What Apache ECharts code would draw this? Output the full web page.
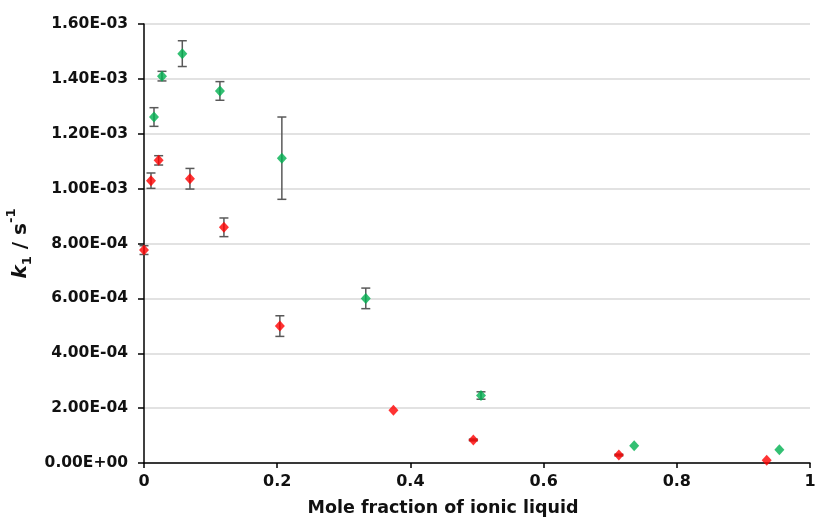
<!DOCTYPE html>
<html>
<head>
<meta charset="utf-8">
<script src="https://cdn.jsdelivr.net/npm/echarts@6/dist/echarts.min.js"></script>
<style>html,body{margin:0;padding:0;background:#fff}#c{width:819px;height:525px}</style>
</head>
<body>
<div id="c"></div>
<script>
// Green series (mole fraction, k1, error)
const greenX = [0.015, 0.027, 0.0575, 0.114, 0.207, 0.333, 0.506, 0.736, 0.954];
const greenY = [1.261e-3, 1.410e-3, 1.492e-3, 1.356e-3, 1.111e-3, 0.600e-3, 0.246e-3, 0.063e-3, 0.0485e-3];
const greenErr = [0.034e-3, 0.0175e-3, 0.047e-3, 0.034e-3, 0.150e-3, 0.0375e-3, 0.0135e-3, 0, 0];
// Red series
const redX = [0, 0.0105, 0.022, 0.069, 0.120, 0.204, 0.3745, 0.4945, 0.713, 0.935];
const redY = [0.776e-3, 1.029e-3, 1.103e-3, 1.036e-3, 0.859e-3, 0.499e-3, 0.192e-3, 0.084e-3, 0.029e-3, 0.0098e-3];
const redErr = [0.016e-3, 0.028e-3, 0.017e-3, 0.0376e-3, 0.034e-3, 0.0376e-3, 0, 0.003e-3, 0.003e-3, 0];
// Tick labels
const yTickLabels = ['0.00E+00','2.00E-04','4.00E-04','6.00E-04','8.00E-04','1.00E-03','1.20E-03','1.40E-03','1.60E-03'];
const xTickLabels = ['0','0.2','0.4','0.6','0.8','1'];

const FONT = 'DejaVu Sans';
const TXT = '#111';
const pts = (xs, ys) => xs.map((x, i) => [x, ys[i]]);
const errs = (xs, ys, es) => xs.map((x, i) => [x, ys[i], es[i]]);

function errorItem(params, api) {
  const x = api.value(0), y = api.value(1), e = api.value(2);
  if (!e) return null;
  const top = api.coord([x, y + e]);
  const bot = api.coord([x, y - e]);
  const hw = 4.5;
  const style = { stroke: '#595959', lineWidth: 1.5 };
  return {
    type: 'group',
    children: [
      { type: 'line', shape: { x1: top[0], y1: top[1], x2: bot[0], y2: bot[1] }, style },
      { type: 'line', shape: { x1: top[0] - hw, y1: top[1], x2: top[0] + hw, y2: top[1] }, style },
      { type: 'line', shape: { x1: bot[0] - hw, y1: bot[1], x2: bot[0] + hw, y2: bot[1] }, style }
    ]
  };
}

const chart = echarts.init(document.getElementById('c'), null, { renderer: 'canvas' });
chart.setOption({
  animation: false,
  backgroundColor: '#fff',
  grid: { left: 144, right: 9, top: 24, bottom: 62, containLabel: false, outerBoundsMode: 'none' },
  xAxis: {
    type: 'value', min: 0, max: 1, interval: 0.2,
    name: 'Mole fraction of ionic liquid',
    nameLocation: 'middle', nameGap: 36,
    nameTextStyle: { fontFamily: FONT, fontWeight: 'bold', fontSize: 17.5, color: TXT, padding: [0, 68, 0, 0] },
    axisLine: { lineStyle: { color: '#000', width: 1.5 } },
    axisTick: { show: true, length: 5, lineStyle: { color: '#000', width: 1.5 } },
    axisLabel: { margin: 11, fontFamily: FONT, fontWeight: 'bold', fontSize: 16, color: TXT,
      formatter: v => xTickLabels[Math.round(v / 0.2)] },
    splitLine: { show: false }
  },
  yAxis: {
    type: 'value', min: 0, max: 1.6e-3, interval: 2e-4,
    name: '{k|k}{sub|1}{n| / s}{sup|-1}',
    nameLocation: 'middle', nameGap: 104,
    nameTextStyle: {
      fontFamily: FONT, fontWeight: 'bold', fontSize: 20, color: TXT,
      rich: {
        k: { fontFamily: FONT, fontWeight: 'bold', fontStyle: 'italic', fontSize: 20, color: TXT, verticalAlign: 'bottom', lineHeight: 26 },
        sub: { fontFamily: FONT, fontWeight: 'bold', fontSize: 13, color: TXT, verticalAlign: 'bottom', lineHeight: 26, padding: [0, 0, -3, 0] },
        n: { fontFamily: FONT, fontWeight: 'bold', fontSize: 20, color: TXT, verticalAlign: 'bottom', lineHeight: 26 },
        sup: { fontFamily: FONT, fontWeight: 'bold', fontSize: 13, color: TXT, verticalAlign: 'top', lineHeight: 26 }
      }
    },
    axisLine: { show: true, lineStyle: { color: '#000', width: 1.5 } },
    axisTick: { show: true, length: 6, lineStyle: { color: '#000', width: 1.5 } },
    axisLabel: { margin: 16, fontFamily: FONT, fontWeight: 'bold', fontSize: 15.5, color: TXT,
      formatter: v => yTickLabels[Math.round(v / 2e-4)] },
    splitLine: { show: true, lineStyle: { color: '#d9d9d9', width: 1.5 } }
  },
  series: [
    { type: 'custom', renderItem: errorItem, data: errs(greenX, greenY, greenErr), z: 2, clip: false },
    { type: 'custom', renderItem: errorItem, data: errs(redX, redY, redErr), z: 2, clip: false },
    { type: 'scatter', data: pts(greenX, greenY), symbol: 'diamond', symbolSize: [10, 11],
      itemStyle: { color: '#00B050' }, z: 3, clip: false },
    { type: 'scatter', data: pts(redX, redY), symbol: 'diamond', symbolSize: [10, 11],
      itemStyle: { color: '#FF0000' }, z: 3, clip: false }
  ]
});
</script>
</body>
</html>
